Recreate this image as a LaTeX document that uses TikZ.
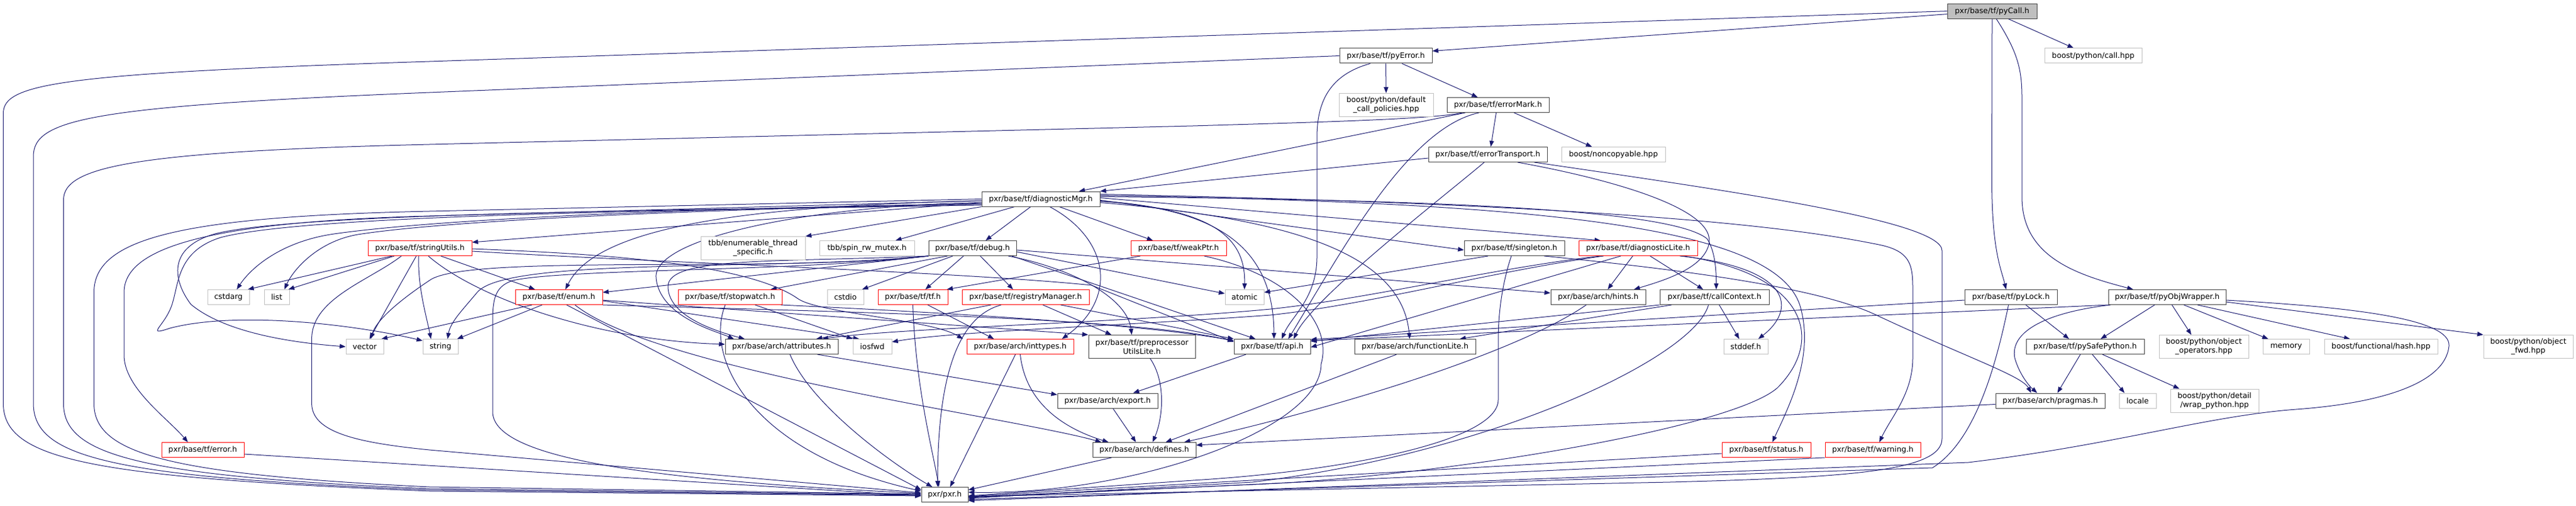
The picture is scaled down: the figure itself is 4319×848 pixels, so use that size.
\documentclass[tikz,border=0pt]{standalone}
\usepackage{fontspec}
\setmainfont{DejaVu Sans}
\usetikzlibrary{arrows.meta}
\definecolor{edgec}{HTML}{191970}
\definecolor{extc}{HTML}{BFBFBF}
\definecolor{boxc}{HTML}{404040}
\definecolor{redc}{HTML}{FF0000}
\pgfdeclarelayer{bg}
\pgfsetlayers{bg,main}
\tikzset{
 nd/.style={draw=boxc, fill=white, line width=1pt, inner sep=0pt, align=center, font=\fontsize{12.7}{15}\selectfont, minimum height=25pt},
 tr/.style={nd, draw=redc},
 ex/.style={nd, draw=extc},
 two/.style={minimum height=39pt},
 e/.style={draw=edgec, line width=1pt, -{Triangle[length=10pt,width=7.5pt]}}
}
\begin{document}
\begin{tikzpicture}[x=1pt,y=-1pt]
\useasboundingbox (0,0) rectangle (4319,848);
% ---------- nodes ----------
\node[nd,fill=extc,minimum width=150pt] (pyCall) at (3340,18.6) {pxr/base/tf/pyCall.h};
\node[nd,minimum width=155pt] (pyError) at (2323.5,93.5) {pxr/base/tf/pyError.h};
\node[ex,minimum width=163pt] (callhpp) at (3509.5,93.5) {boost/python/call.hpp};
\node[ex,two,minimum width=158pt] (defcall) at (2324,176) {boost/python/default\\\_call\_policies.hpp};
\node[nd,minimum width=171pt] (errorMark) at (2511.5,176) {pxr/base/tf/errorMark.h};
\node[nd,minimum width=199pt] (errorTransport) at (2494.5,259) {pxr/base/tf/errorTransport.h};
\node[ex,minimum width=174pt] (noncopyable) at (2705,259) {boost/noncopyable.hpp};
\node[nd,minimum width=198pt] (diagMgr) at (1745,333.5) {pxr/base/tf/diagnosticMgr.h};
\node[tr,minimum width=174pt] (stringUtils) at (704,416) {pxr/base/tf/stringUtils.h};
\node[ex,two,minimum width=175pt] (tbbEnum) at (1262.5,416) {tbb/enumerable\_thread\\\_specific.h};
\node[ex,minimum width=159pt] (tbbSpin) at (1453.5,416) {tbb/spin\_rw\_mutex.h};
\node[nd,minimum width=147pt] (debug) at (1630.5,416) {pxr/base/tf/debug.h};
\node[tr,minimum width=160pt] (weakPtr) at (1976,416) {pxr/base/tf/weakPtr.h};
\node[nd,minimum width=168pt] (singleton) at (2539,416) {pxr/base/tf/singleton.h};
\node[tr,minimum width=199pt] (diagLite) at (2746.5,416) {pxr/base/tf/diagnosticLite.h};
\node[ex,minimum width=70pt] (cstdarg) at (383,498) {cstdarg};
\node[ex,minimum width=42pt] (list) at (464,498) {list};
\node[tr,minimum width=146pt] (enum) at (937,498) {pxr/base/tf/enum.h};
\node[tr,minimum width=174pt] (stopwatch) at (1224,498) {pxr/base/tf/stopwatch.h};
\node[ex,minimum width=61pt] (cstdio) at (1417.5,498) {cstdio};
\node[tr,minimum width=117pt] (tfh) at (1530.5,498) {pxr/base/tf/tf.h};
\node[tr,minimum width=213pt] (registry) at (1719.5,498) {pxr/base/tf/registryManager.h};
\node[ex,minimum width=65pt] (atomic) at (2086.5,498) {atomic};
\node[nd,minimum width=159pt] (hints) at (2679.5,498) {pxr/base/arch/hints.h};
\node[nd,minimum width=183pt] (callContext) at (2874.5,498) {pxr/base/tf/callContext.h};
\node[nd,minimum width=155pt] (pyLock) at (3371.5,498) {pxr/base/tf/pyLock.h};
\node[nd,minimum width=197pt] (pyObjWrapper) at (3633.5,498) {pxr/base/tf/pyObjWrapper.h};
\node[ex,minimum width=63pt] (vector) at (611.5,581) {vector};
\node[ex,minimum width=59pt] (string) at (738.5,581) {string};
\node[nd,minimum width=189pt] (attributes) at (1310.5,581) {pxr/base/arch/attributes.h};
\node[ex,minimum width=65pt] (iosfwd) at (1462.5,581) {iosfwd};
\node[tr,minimum width=179pt] (inttypes) at (1710.5,581) {pxr/base/arch/inttypes.h};
\node[nd,two,minimum width=179pt] (preproc) at (1914.5,581) {pxr/base/tf/preprocessor\\UtilsLite.h};
\node[nd,minimum width=128pt] (api) at (2133,581) {pxr/base/tf/api.h};
\node[nd,minimum width=203pt] (functionLite) at (2372.5,581) {pxr/base/arch/functionLite.h};
\node[ex,minimum width=74pt] (stddef) at (2927,581) {stddef.h};
\node[nd,minimum width=198pt] (pySafe) at (3496,581) {pxr/base/tf/pySafePython.h};
\node[ex,two,minimum width=150pt] (objOps) at (3695,581) {boost/python/object\\\_operators.hpp};
\node[ex,minimum width=78pt] (memory) at (3833,581) {memory};
\node[ex,minimum width=190pt] (hash) at (3992,581) {boost/functional/hash.hpp};
\node[ex,two,minimum width=150pt] (objFwd) at (4239,581) {boost/python/object\\\_fwd.hpp};
\node[nd,minimum width=168pt] (export) at (1857,671.5) {pxr/base/arch/export.h};
\node[nd,minimum width=183pt] (pragmas) at (3437.5,671.5) {pxr/base/arch/pragmas.h};
\node[ex,minimum width=62pt] (locale) at (3584,671.5) {locale};
\node[ex,two,minimum width=148pt] (wrapPy) at (3713,671.5) {boost/python/detail\\/wrap\_python.hpp};
\node[tr,minimum width=138pt] (error) at (340,754) {pxr/base/tf/error.h};
\node[nd,minimum width=173pt] (defines) at (1918.5,754) {pxr/base/arch/defines.h};
\node[tr,minimum width=149pt] (status) at (2961.5,754) {pxr/base/tf/status.h};
\node[tr,minimum width=160pt] (warning) at (3140,754) {pxr/base/tf/warning.h};
\node[nd,minimum width=78pt] (pxr) at (1584,829) {pxr/pxr.h};
% ---------- edges ----------
\begin{pgfonlayer}{bg}
% pyCall
\draw[e] (pyCall.west) -- (720,103) .. controls (100,123) and (5.5,140) .. (5.5,190) -- (5.5,676) .. controls (5.5,770) and (150,800) .. (720,823) -- ([yshift=-2]pxr.west);
\draw[e] ([yshift=-5]pyCall.west) -- ([yshift=8]pyError.east);
\draw[e] ([xshift=27]pyCall.south) -- ([xshift=-33]callhpp.north);
\draw[e] (pyCall.south) -- (3339.5,300) .. controls (3339.5,420) and (3355,450) .. ([xshift=-8]pyLock.north);
\draw[e] ([xshift=7]pyCall.south) .. controls (3385,90) and (3390,120) .. (3390,165) -- (3390,330) .. controls (3390,430) and (3480,460) .. ([xshift=-57]pyObjWrapper.north);
% pyError
\draw[e] (pyError.west) -- (720,155) .. controls (150,178) and (56,200) .. (56,262) -- (56,676) .. controls (56,765) and (180,800) .. (720,821) -- ([yshift=-1]pxr.west);
\draw[e] ([xshift=-26]pyError.south) .. controls (2230,125) and (2208,170) .. (2208,230) -- (2208,430) .. controls (2208,500) and (2165,530) .. ([xshift=16]api.north);
\draw[e] (pyError.south) -- (defcall.north);
\draw[e] ([xshift=27]pyError.south) -- ([xshift=-34]errorMark.north);
% errorMark
\draw[e] ([xshift=-60]errorMark.south) .. controls (2400,200) and (2200,205) .. (2000,211) -- (720,242) .. controls (220,254) and (106.5,280) .. (106.5,335) -- (106.5,676) .. controls (106.5,760) and (220,798) .. (720,819) -- (pxr.west);
\draw[e] ([xshift=-55]errorMark.south) -- ([xshift=64]diagMgr.north);
\draw[e] ([xshift=-3]errorMark.south) -- ([xshift=5]errorTransport.north);
\draw[e] ([xshift=27]errorMark.south) -- ([xshift=-36]noncopyable.north);
\draw[e] ([xshift=-32]errorMark.south) .. controls (2360,215) and (2250,420) .. ([xshift=27]api.north);
% errorTransport
\draw[e] ([yshift=-6]errorTransport.west) -- (diagMgr.north east);
\draw[e] ([xshift=-6]errorTransport.south) .. controls (2420,330) and (2200,500) .. ([xshift=36]api.north);
\draw[e] ([xshift=50]errorTransport.south) .. controls (2700,300) and (2880,350) .. (2865,410) .. controls (2855,450) and (2790,470) .. ([xshift=60]hints.north);
\draw[e] ([xshift=78]errorTransport.south) .. controls (2900,320) and (3256,370) .. (3256,420) -- (3256,735) .. controls (3256,790) and (3100,800) .. (2800,808) -- ([yshift=-3]pxr.east);
% diagnosticMgr
\draw[e] (diagMgr.west) -- (720,354) .. controls (300,363) and (157.5,400) .. (157.5,490) -- (157.5,676) .. controls (157.5,760) and (280,795) .. (720,816) -- ([yshift=1]pxr.west);
\draw[e] ([yshift=-3]diagMgr.west) -- (720,362) .. controls (330,372) and (208,420) .. (208,490) -- (208,595) .. controls (208,650) and (280,700) .. ([xshift=-25]error.north);
\draw[e] ([yshift=-6]diagMgr.west) -- ([yshift=10]stringUtils.east);
\draw[e] (diagMgr.south west) -- (tbbEnum.north east);
\draw[e] ([xshift=-44]diagMgr.south) -- ([xshift=48]tbbSpin.north);
\draw[e] ([xshift=-17]diagMgr.south) -- ([xshift=22]debug.north);
\draw[e] ([xshift=31]diagMgr.south) -- ([xshift=-43]weakPtr.north);
\draw[e] ([xshift=15]diagMgr.south) .. controls (1860,400) and (1875,500) .. ([xshift=70]inttypes.north);
\draw[e] ([yshift=-3]diagMgr.east) .. controls (2020,350) and (2089,390) .. (atomic.north);
\draw[e] ([yshift=-8]diagMgr.west) .. controls (1200,348) and (750,365) .. (560,392) .. controls (470,405) and (420,450) .. ([xshift=14]cstdarg.north);
\draw[e] ([yshift=-8]diagMgr.west) .. controls (1200,350) and (760,368) .. (600,393) .. controls (530,405) and (490,455) .. ([xshift=13]list.north);
\draw[e] ([yshift=-10]diagMgr.west) .. controls (1200,352) and (500,355) .. (360,392) .. controls (280,415) and (290,470) .. (320,510) .. controls (380,560) and (500,575) .. (vector.west);
\draw[e] ([yshift=-10]diagMgr.west) .. controls (1200,352) and (520,358) .. (370,398) .. controls (300,420) and (300,470) .. (290,505) .. controls (280,545) and (240,565) .. (285,550) .. controls (400,520) and (600,545) .. ([yshift=10]string.west);
\draw[e] ([yshift=-3]diagMgr.west) .. controls (1250,345) and (1000,380) .. ([xshift=11]enum.north);
\draw[e] ([yshift=-6]diagMgr.west) .. controls (1350,345) and (1095,400) .. (1100,465) .. controls (1105,530) and (1200,555) .. ([xshift=-80]attributes.north);
\draw[e] ([yshift=-6]diagMgr.east) .. controls (2150,365) and (2350,420) .. ([xshift=-9]functionLite.north);
\draw[e] ([yshift=-4]diagMgr.east) .. controls (2050,350) and (2135,420) .. ([xshift=3]api.north);
\draw[e] ([yshift=-2]diagMgr.east) -- ([yshift=-3]singleton.west);
\draw[e] ([yshift=2]diagMgr.east) -- ([xshift=-63]diagLite.north);
\draw[e] ([yshift=4]diagMgr.east) .. controls (2400,335) and (2800,350) .. (2862,400) .. controls (2875,420) and (2877.5,450) .. ([xshift=3]callContext.north);
\draw[e] ([yshift=6]diagMgr.east) .. controls (2600,340) and (2990,380) .. (3020,520) .. controls (3040,600) and (3000,680) .. ([xshift=10]status.north);
\draw[e] ([yshift=8]diagMgr.east) .. controls (2800,345) and (3050,390) .. (3150,410) .. controls (3210,422) and (3207,450) .. (3207,500) -- (3207,600) .. controls (3207,660) and (3170,700) .. ([xshift=11]warning.north);
% debug
\draw[e] (debug.south west) .. controls (1350,455) and (950,450) .. (860,470) .. controls (830,480) and (826,500) .. (826,540) -- (826,690) .. controls (826,770) and (1100,805) .. ([yshift=2]pxr.west);
\draw[e] ([xshift=-15]debug.south) -- ([xshift=21]tfh.north);
\draw[e] ([xshift=13]debug.south) -- ([xshift=-21]registry.north);
\draw[e] ([xshift=-33]debug.south) -- ([xshift=-3]cstdio.north east);
\draw[e] ([yshift=-6]debug.east) -- ([yshift=6]atomic.west);
\draw[e] ([xshift=60]debug.south) .. controls (1800,450) and (1890,500) .. ([xshift=-17]preproc.north);
\draw[e] ([xshift=66]debug.south) -- ([xshift=-28]api.north);
\draw[e] ([yshift=-3]debug.east) -- ([yshift=7]hints.west);
\draw[e] (debug.south west) -- ([yshift=8]enum.east);
\draw[e] ([xshift=-42]debug.south) -- ([xshift=68]stopwatch.north);
\draw[e] (debug.south west) .. controls (1300,440) and (1120,430) .. (1120,480) .. controls (1120,530) and (1200,555) .. ([xshift=-62]attributes.north);
\draw[e] (debug.south west) .. controls (1300,455) and (850,430) .. (800,490) .. controls (775,520) and (755,540) .. ([xshift=12]string.north);
\draw[e] (debug.south west) .. controls (1300,458) and (780,425) .. (720,470) .. controls (660,510) and (630,540) .. ([xshift=10]vector.north);
% stringUtils
\draw[e] ([xshift=-31]stringUtils.south) .. controls (620,470) and (522.6,500) .. (522.6,568) -- (522.6,676) .. controls (522.6,725) and (600,742) .. (720,754) -- ([yshift=3]pxr.west);
\draw[e] ([xshift=-47]stringUtils.south) -- ([xshift=-3]cstdarg.north east);
\draw[e] ([xshift=-43]stringUtils.south) -- ([xshift=-2]list.north east);
\draw[e] ([xshift=-6]stringUtils.south) -- ([xshift=8]vector.north);
\draw[e] ([xshift=-2]stringUtils.south) .. controls (700,480) and (715,530) .. ([xshift=-16]string.north);
\draw[e] ([xshift=14]stringUtils.south) .. controls (800,500) and (1000,570) .. ([yshift=4]attributes.west);
\draw[e] ([xshift=35]stringUtils.south) -- ([xshift=-40]enum.north);
\draw[e] ([yshift=-1]stringUtils.east) .. controls (1000,425) and (1250,440) .. (1337,500) .. controls (1370,525) and (1560,535) .. ([xshift=-96]inttypes.north);
\draw[e] ([yshift=-5]stringUtils.east) .. controls (1100,440) and (1600,455) .. (1830,478) -- ([yshift=8]api.west);
% enum
\draw[e] ([xshift=13]enum.south) -- ([yshift=8]pxr.west);
\draw[e] ([xshift=27]enum.south) .. controls (1100,620) and (1700,700) .. ([xshift=-72]defines.north);
\draw[e] ([yshift=-5]enum.east) -- (preproc.north west);
\draw[e] (enum.south east) .. controls (1300,520) and (1900,530) .. ([yshift=9]api.west);
\draw[e] ([yshift=-6]enum.east) -- ([xshift=-22]iosfwd.north);
\draw[e] ([xshift=-28]enum.south) -- ([xshift=-2]string.north east);
\draw[e] ([xshift=-45]enum.south) -- ([xshift=-4]vector.north east);
% stopwatch
\draw[e] ([xshift=-8]stopwatch.south) .. controls (1180,600) and (1260,760) .. ([yshift=6]pxr.west);
\draw[e] ([xshift=42]stopwatch.south) -- (iosfwd.north west);
\draw[e] ([xshift=-2]stopwatch.south east) .. controls (1500,520) and (1900,540) .. ([yshift=10]api.west);
% tf.h
\draw[e] (tfh.south) .. controls (1535,650) and (1565,760) .. ([xshift=-10]pxr.north);
\draw[e] ([xshift=25]tfh.south) -- ([xshift=-44]inttypes.north);
% registryManager
\draw[e] ([xshift=-41]registry.south) .. controls (1610,530) and (1572,620) .. ([xshift=-12]pxr.north);
\draw[e] ([xshift=29]registry.south) -- ([xshift=-51]preproc.north);
\draw[e] ([xshift=59]registry.south) -- (api.north west);
\draw[e] ([xshift=-58]registry.south) -- ([xshift=58]attributes.north);
% weakPtr
\draw[e] ([xshift=-64]weakPtr.south) -- ([xshift=-2]tfh.north east);
\draw[e] ([xshift=43]weakPtr.south) .. controls (2160,460) and (2235,540) .. (2215,610) .. controls (2215,720) and (1900,830) .. ([yshift=4]pxr.east);
% singleton
\draw[e] ([xshift=-44]singleton.south) -- ([yshift=8]atomic.east);
\draw[e] ([xshift=-5]singleton.south) .. controls (2520,470) and (2512,520) .. (2512,570) -- (2512,670) .. controls (2512,740) and (2250,790) .. (2000,805) -- ([yshift=-2]pxr.east);
\draw[e] ([xshift=50]singleton.south) .. controls (2800,450) and (3050,480) .. (3150,530) .. controls (3300,600) and (3390,630) .. ([xshift=-32]pragmas.north);
% diagnosticLite
\draw[e] ([xshift=-9]diagLite.south) -- ([xshift=16]hints.north);
\draw[e] ([xshift=20]diagLite.south) -- ([xshift=-19]callContext.north);
\draw[e] ([xshift=70]diagLite.south) .. controls (3010,450) and (3010,520) .. ([xshift=21]stddef.north);
\draw[e] ([xshift=76]diagLite.south) .. controls (3030,460) and (3060,570) .. (2980,650) .. controls (2900,720) and (2400,800) .. (2100,812) -- ([yshift=-4]pxr.east);
\draw[e] ([xshift=-29]diagLite.south) -- ([yshift=-1]api.east);
\draw[e] ([xshift=-63]diagLite.south) .. controls (2500,450) and (2300,500) .. (2130,518) .. controls (1900,540) and (1500,550) .. ([xshift=68]attributes.north);
\draw[e] ([xshift=-58]diagLite.south) .. controls (2500,455) and (2300,510) .. (2130,528) .. controls (1900,545) and (1600,555) .. ([yshift=8]iosfwd.east);
% hints, functionLite, pragmas
\draw[e] ([xshift=-20]hints.south) .. controls (2560,580) and (2300,670) .. ([xshift=67]defines.north);
\draw[e] ([xshift=-31]functionLite.south) -- ([xshift=36]defines.north);
\draw[e] ([yshift=-6]pragmas.west) -- ([yshift=8]defines.east);
% callContext
\draw[e] ([xshift=8]callContext.south) -- ([xshift=-11]stddef.north);
\draw[e] ([xshift=-72]callContext.south) -- ([xshift=75]functionLite.north);
\draw[e] (callContext.south west) -- ([yshift=9]api.east);
\draw[e] ([xshift=-10]callContext.south) .. controls (2840,600) and (2500,760) .. (2100,808) -- ([yshift=-6]pxr.east);
% pyLock
\draw[e] ([yshift=-5]pyLock.west) -- ([yshift=12]api.east);
\draw[e] ([xshift=25]pyLock.south) -- ([xshift=-27]pySafe.north);
\draw[e] ([xshift=-4]pyLock.south) .. controls (3345,620) and (3310,740) .. (3240,784) -- ([yshift=-8]pxr.east);
% pyObjWrapper
\draw[e] (pyObjWrapper.south west) -- ([yshift=10]api.east);
\draw[e] ([xshift=-21]pyObjWrapper.south) -- ([xshift=26]pySafe.north);
\draw[e] ([xshift=4]pyObjWrapper.south west) .. controls (3420,525) and (3370,560) .. (3378,600) .. controls (3385,625) and (3400,645) .. ([xshift=-22]pragmas.north);
\draw[e] ([xshift=8]pyObjWrapper.south) -- ([xshift=-21]objOps.north);
\draw[e] ([xshift=28]pyObjWrapper.south) -- ([xshift=-30]memory.north);
\draw[e] ([xshift=51]pyObjWrapper.south) -- ([xshift=-52]hash.north);
\draw[e] ([yshift=-8]pyObjWrapper.east) -- (objFwd.north west);
\draw[e] ([yshift=-5]pyObjWrapper.east) .. controls (3950,515) and (4110,535) .. (4106,580) .. controls (4100,640) and (4000,675) .. (3850,686) .. controls (3700,697) and (3550,745) .. (3300,775) -- ([yshift=-10]pxr.east);
% pySafePython
\draw[e] ([xshift=-8]pySafe.south) -- ([xshift=12]pragmas.north);
\draw[e] ([xshift=12]pySafe.south) -- ([xshift=-22]locale.north);
\draw[e] ([xshift=29]pySafe.south) -- ([xshift=-59]wrapPy.north);
% lower levels
\draw[e] ([xshift=-44]api.south) -- ([xshift=43]export.north);
\draw[e] ([xshift=14]attributes.south) .. controls (1360,680) and (1500,780) .. ([xshift=-21]pxr.north);
\draw[e] ([xshift=60]attributes.south) -- ([yshift=10]export.west);
\draw[e] ([xshift=-8]inttypes.south) -- ([xshift=9]pxr.north);
\draw[e] (inttypes.south) .. controls (1720,680) and (1790,720) .. ([xshift=-60]defines.north);
\draw[e] ([xshift=14]preproc.south) .. controls (1955,640) and (1950,700) .. ([xshift=14]defines.north);
\draw[e] ([xshift=9]export.south) -- ([xshift=-14]defines.north);
\draw[e] ([xshift=-55]defines.south) -- ([yshift=8]pxr.east);
\draw[e] ([yshift=-7]error.east) -- ([yshift=-2]pxr.west);
\draw[e] ([yshift=-6]status.west) -- ([yshift=-3]pxr.east);
\draw[e] (warning.south west) -- ([yshift=-5]pxr.east);
\end{pgfonlayer}
\end{tikzpicture}
\end{document}
